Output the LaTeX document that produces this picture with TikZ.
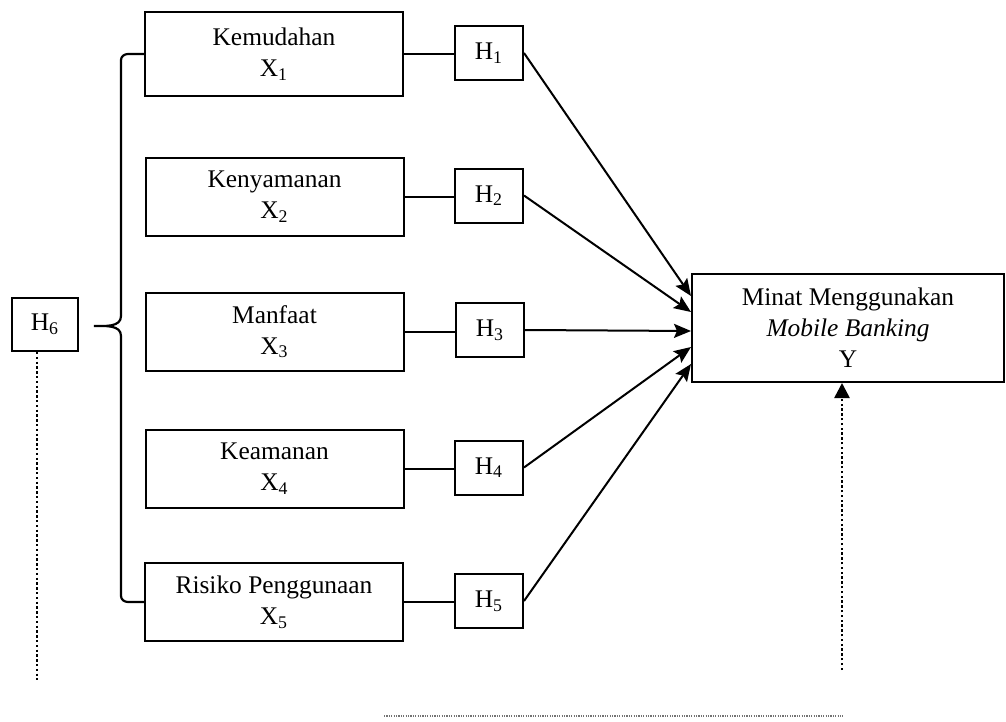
\documentclass[tikz,border=0pt]{standalone}
\usepackage{fontspec}
\setmainfont{Liberation Serif}
\usetikzlibrary{arrows.meta}

\begin{document}
\begin{tikzpicture}[line width=1pt,x=0.5pt,y=-0.5pt,
  font=\fontsize{12.7}{15.5}\selectfont]
\tikzset{var/.style={draw,minimum width=129pt,minimum height=39pt,inner sep=0pt,align=center},
  hyp/.style={draw,minimum width=34pt,minimum height=27pt,inner sep=0pt},
  arr/.style={-{Stealth[length=8.5pt,width=7pt,inset=1.5pt]}},
  dots/.style={line width=1.3pt,dash pattern=on 1.2pt off 1.2pt},
  finedots/.style={line width=0.9pt,black!55,dash pattern=on 0.6pt off 0.6pt}}
\useasboundingbox (0,0) rectangle (1006,722);
% ---------- variables X1..X5 ----------
\node[var,minimum height=42pt] (x1) at (274,54)    {Kemudahan\\X\textsubscript{1}};
\node[var] (x2) at (274.5,196.5) {Kenyamanan\\X\textsubscript{2}};
\node[var] (x3) at (274.5,331.5) {Manfaat\\X\textsubscript{3}};
\node[var] (x4) at (274.5,468.5) {Keamanan\\X\textsubscript{4}};
\node[var] (x5) at (274,602)     {Risiko Penggunaan\\X\textsubscript{5}};
% ---------- hypotheses ----------
\node[hyp] (h1) at (489,53)  {H\textsubscript{1}};
\node[hyp] (h2) at (489,195.5) {H\textsubscript{2}};
\node[hyp] (h3) at (490,330) {H\textsubscript{3}};
\node[hyp] (h4) at (489,467.5) {H\textsubscript{4}};
\node[hyp] (h5) at (489,601) {H\textsubscript{5}};
\node[hyp,minimum width=33pt,minimum height=26.5pt] (h6) at (45,324.5) {H\textsubscript{6}};
% ---------- dependent variable ----------
\node[draw,minimum width=156pt,minimum height=54pt,inner sep=0pt,align=center] (y) at (848,328)
  {Minat Menggunakan\\\textit{Mobile Banking}\\Y};
% ---------- X -- H ----------
\foreach \i in {1,...,5} \draw (x\i.east) -- (x\i.east -| h\i.west);
% ---------- H -> Y ----------
\foreach \i/\ty in {1/296,2/312,3/331,4/347,5/364} {
  \coordinate (t\i) at (y.west |- 0,\ty);
  \draw[arr] (h\i.east) -- (t\i);
}
% ---------- brace ----------
\draw[line width=1.1pt] (x1.west) -- (128,54) to[out=180,in=90] (121,60) -- (121,316)
  to[out=-90,in=0] (94,326) to[out=0,in=90] (121,336) -- (121,596)
  to[out=-90,in=180] (128,602) -- (x5.west);
% ---------- dotted lines ----------
\coordinate (d1) at (37,680);
\coordinate (d2) at (842,670);
\coordinate (d3) at (384,716);
\coordinate (d4) at (843,716);
\draw[dots] (h6.south -| d1) -- (d1);
\draw[dots,-{Triangle[length=7.5pt,width=7.5pt]}] (d2) -- (d2 |- y.south);
\draw[finedots] (d3) -- (d4);
\end{tikzpicture}
\end{document}
